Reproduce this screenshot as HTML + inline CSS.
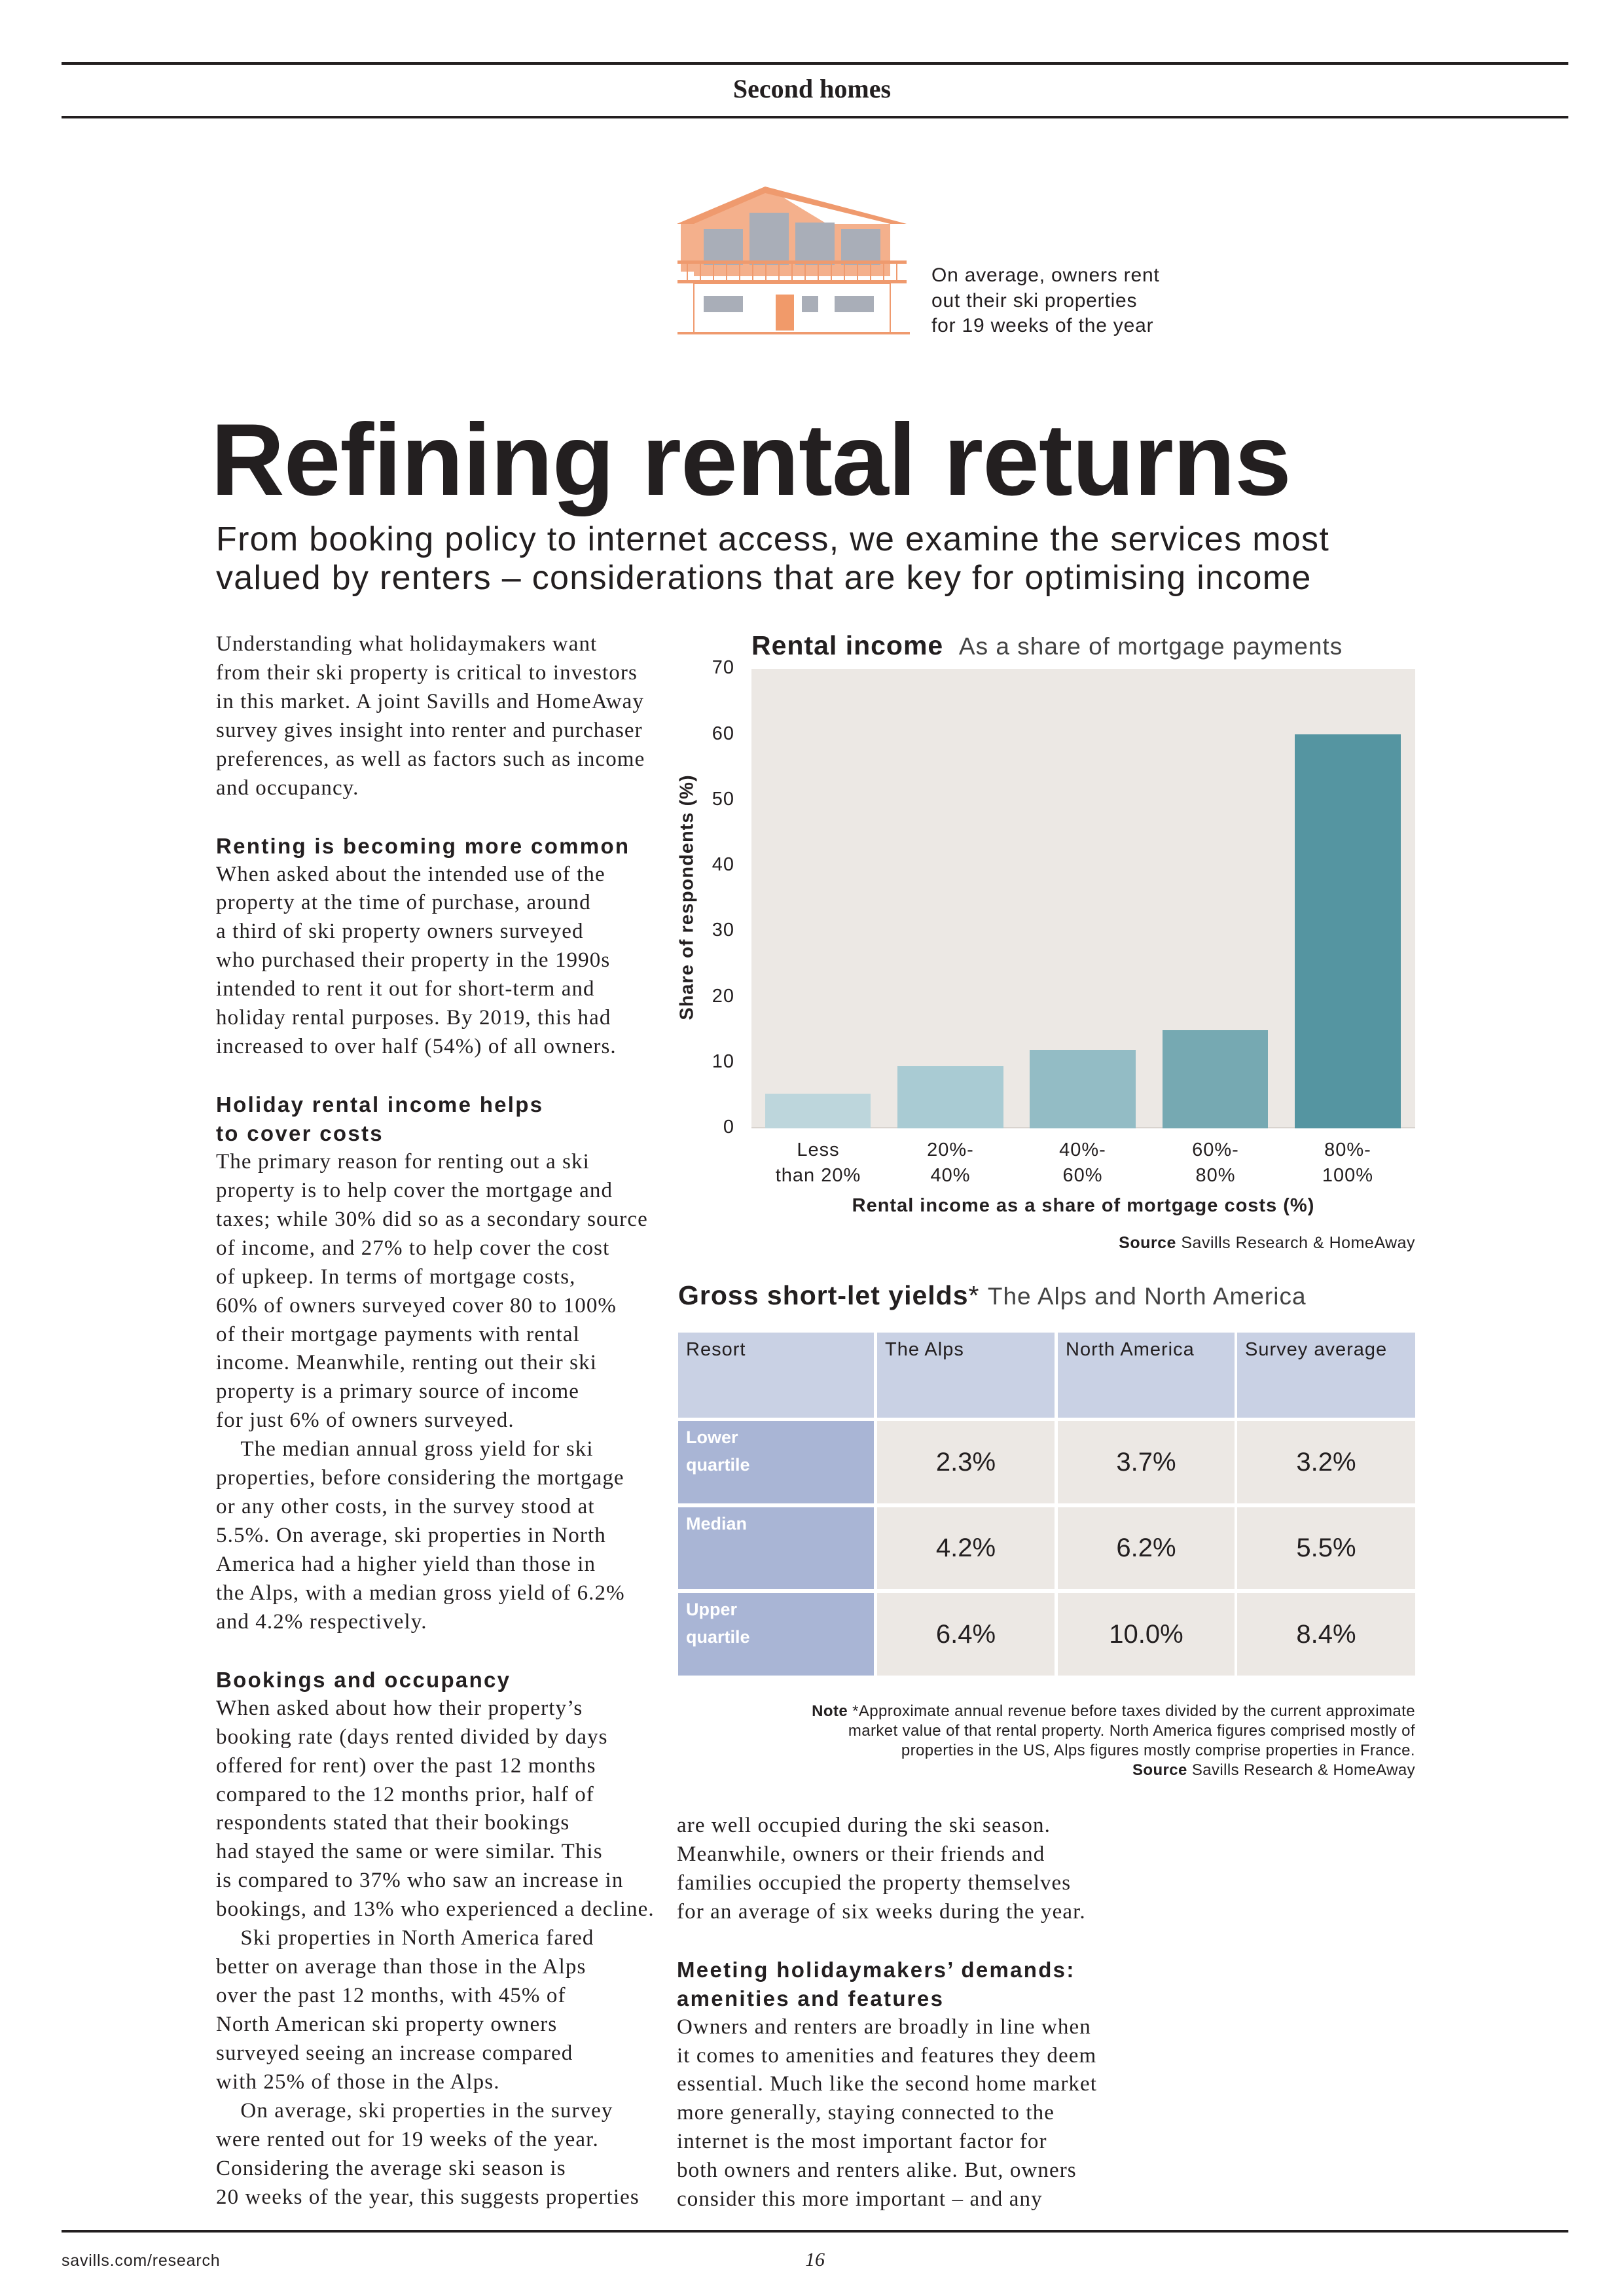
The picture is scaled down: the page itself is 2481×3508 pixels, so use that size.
<!DOCTYPE html>
<html><head><meta charset="utf-8"><style>
body{margin:0;width:2481px;height:3508px;background:#fff;position:relative;overflow:hidden;color:#231f20}
.a{position:absolute;white-space:nowrap}
.serif{font-family:"Liberation Serif",serif}
.sans{font-family:"Liberation Sans",sans-serif}
.col{position:absolute;font-family:"Liberation Serif",serif;font-size:33px;letter-spacing:1.1px;line-height:43.95px;color:#231f20}
.col div{height:43.95px;white-space:nowrap}
.h{font-family:"Liberation Sans",sans-serif;font-weight:bold;font-size:33px;letter-spacing:2.3px}
.rule{position:absolute;left:94px;width:2302px;background:#231f20;height:4px}
.yl{position:absolute;font-family:"Liberation Sans",sans-serif;font-size:29px;letter-spacing:1px;color:#231f20;text-align:right;width:50px;left:1072px}
.xl{position:absolute;font-family:"Liberation Sans",sans-serif;font-size:29px;letter-spacing:1px;text-align:center;width:200px;line-height:39px}
.cell{position:absolute;font-family:"Liberation Sans",sans-serif}
</style></head><body>
<div class="rule" style="top:95px"></div>
<div class="rule" style="top:177px"></div>
<div class="a serif" style="left:0;width:2481px;text-align:center;top:112px;font-size:40px;font-weight:bold">Second homes</div>

<svg class="a" style="left:1030px;top:280px" width="365" height="235" viewBox="0 0 365 235">
<polygon points="139,5 10,60 10,135 130,135 130,95 230,95 230,60" fill="#f4b08c"/>
<polygon points="139,5 355,62 330,62 139,15 30,62 4,62" fill="#ef9a6e"/>
<rect x="30" y="62" width="300" height="80" fill="#f4b08c"/>
<rect x="45" y="70" width="60" height="55" fill="#a9aeb8"/>
<rect x="115" y="45" width="60" height="80" fill="#a9aeb8"/>
<rect x="185" y="60" width="60" height="65" fill="#a9aeb8"/>
<rect x="255" y="70" width="60" height="55" fill="#a9aeb8"/>
<rect x="5" y="118" width="350" height="5" fill="#ef9a6e"/>
<rect x="5" y="148" width="350" height="5" fill="#ef9a6e"/>
<g stroke="#ef9a6e" stroke-width="2">
<line x1="20" y1="123" x2="20" y2="148"/><line x1="40" y1="123" x2="40" y2="148"/><line x1="60" y1="123" x2="60" y2="148"/><line x1="80" y1="123" x2="80" y2="148"/><line x1="100" y1="123" x2="100" y2="148"/><line x1="120" y1="123" x2="120" y2="148"/><line x1="140" y1="123" x2="140" y2="148"/><line x1="160" y1="123" x2="160" y2="148"/><line x1="180" y1="123" x2="180" y2="148"/><line x1="200" y1="123" x2="200" y2="148"/><line x1="220" y1="123" x2="220" y2="148"/><line x1="240" y1="123" x2="240" y2="148"/><line x1="260" y1="123" x2="260" y2="148"/><line x1="280" y1="123" x2="280" y2="148"/><line x1="300" y1="123" x2="300" y2="148"/><line x1="320" y1="123" x2="320" y2="148"/><line x1="340" y1="123" x2="340" y2="148"/></g>
<rect x="30" y="153" width="300" height="75" fill="#fff" stroke="#ef9a6e" stroke-width="2"/>
<rect x="45" y="172" width="60" height="25" fill="#a9aeb8"/>
<rect x="155" y="170" width="28" height="55" fill="#f19a6a"/>
<rect x="195" y="172" width="25" height="25" fill="#a9aeb8"/>
<rect x="245" y="172" width="60" height="25" fill="#a9aeb8"/>
<rect x="5" y="227" width="355" height="4" fill="#ef9a6e"/>
</svg>
<div class="a sans" style="left:1423px;top:402px;font-size:30px;letter-spacing:0.8px;line-height:38.5px">On average, owners rent<br>out their ski properties<br>for 19 weeks of the year</div>

<div class="a sans" style="left:322px;top:614px;font-size:156px;font-weight:bold;letter-spacing:-1px">Refining rental returns</div>
<div class="a sans" style="left:330px;top:795px;font-size:52px;letter-spacing:1.3px;line-height:59px">From booking policy to internet access, we examine the services most<br>valued by renters – considerations that are key for optimising income</div>

<div class="col" style="left:330px;top:963px">
<div>Understanding what holidaymakers want</div>
<div>from their ski property is critical to investors</div>
<div>in this market. A joint Savills and HomeAway</div>
<div>survey gives insight into renter and purchaser</div>
<div>preferences, as well as factors such as income</div>
<div>and occupancy.</div>
<div></div>
<div class="h">Renting is becoming more common</div>
<div>When asked about the intended use of the</div>
<div>property at the time of purchase, around</div>
<div>a third of ski property owners surveyed</div>
<div>who purchased their property in the 1990s</div>
<div>intended to rent it out for short-term and</div>
<div>holiday rental purposes. By 2019, this had</div>
<div>increased to over half (54%) of all owners.</div>
<div></div>
<div class="h">Holiday rental income helps</div>
<div class="h">to cover costs</div>
<div>The primary reason for renting out a ski</div>
<div>property is to help cover the mortgage and</div>
<div>taxes; while 30% did so as a secondary source</div>
<div>of income, and 27% to help cover the cost</div>
<div>of upkeep. In terms of mortgage costs,</div>
<div>60% of owners surveyed cover 80 to 100%</div>
<div>of their mortgage payments with rental</div>
<div>income. Meanwhile, renting out their ski</div>
<div>property is a primary source of income</div>
<div>for just 6% of owners surveyed.</div>
<div>&nbsp;&nbsp;&nbsp;&nbsp;The median annual gross yield for ski</div>
<div>properties, before considering the mortgage</div>
<div>or any other costs, in the survey stood at</div>
<div>5.5%. On average, ski properties in North</div>
<div>America had a higher yield than those in</div>
<div>the Alps, with a median gross yield of 6.2%</div>
<div>and 4.2% respectively.</div>
<div></div>
<div class="h">Bookings and occupancy</div>
<div>When asked about how their property’s</div>
<div>booking rate (days rented divided by days</div>
<div>offered for rent) over the past 12 months</div>
<div>compared to the 12 months prior, half of</div>
<div>respondents stated that their bookings</div>
<div>had stayed the same or were similar. This</div>
<div>is compared to 37% who saw an increase in</div>
<div>bookings, and 13% who experienced a decline.</div>
<div>&nbsp;&nbsp;&nbsp;&nbsp;Ski properties in North America fared</div>
<div>better on average than those in the Alps</div>
<div>over the past 12 months, with 45% of</div>
<div>North American ski property owners</div>
<div>surveyed seeing an increase compared</div>
<div>with 25% of those in the Alps.</div>
<div>&nbsp;&nbsp;&nbsp;&nbsp;On average, ski properties in the survey</div>
<div>were rented out for 19 weeks of the year.</div>
<div>Considering the average ski season is</div>
<div>20 weeks of the year, this suggests properties</div>
</div>

<div class="col" style="left:1034px;top:2768px">
<div>are well occupied during the ski season.</div>
<div>Meanwhile, owners or their friends and</div>
<div>families occupied the property themselves</div>
<div>for an average of six weeks during the year.</div>
<div></div>
<div class="h">Meeting holidaymakers’ demands:</div>
<div class="h">amenities and features</div>
<div>Owners and renters are broadly in line when</div>
<div>it comes to amenities and features they deem</div>
<div>essential. Much like the second home market</div>
<div>more generally, staying connected to the</div>
<div>internet is the most important factor for</div>
<div>both owners and renters alike. But, owners</div>
<div>consider this more important – and any</div>
</div>

<!-- Chart -->
<div class="a sans" style="left:1148px;top:963px;font-size:41px;letter-spacing:1px"><b>Rental income</b> <span style="font-size:37px;color:#444">&nbsp;As a share of mortgage payments</span></div>
<div class="a" style="left:1148px;top:1022px;width:1014px;height:702px;background:#ece8e4"></div>
<div class="a" style="left:1148px;top:1722px;width:1014px;height:2px;background:#d8d3ce"></div>
<div class="yl" style="top:1004px">70</div>
<div class="yl" style="top:1105px">60</div>
<div class="yl" style="top:1205px">50</div>
<div class="yl" style="top:1305px">40</div>
<div class="yl" style="top:1405px">30</div>
<div class="yl" style="top:1506px">20</div>
<div class="yl" style="top:1606px">10</div>
<div class="yl" style="top:1706px">0</div>
<div class="a sans" style="left:1050px;top:1371px;font-size:29px;font-weight:bold;letter-spacing:1px;transform:translate(-50%,-50%) rotate(-90deg)">Share of respondents (%)</div>
<div class="a" style="left:1169px;top:1671px;width:161px;height:53px;background:#bdd6dc"></div>
<div class="a" style="left:1371px;top:1629px;width:162px;height:95px;background:#a9cbd3"></div>
<div class="a" style="left:1573px;top:1604px;width:162px;height:120px;background:#93bcc5"></div>
<div class="a" style="left:1776px;top:1574px;width:161px;height:150px;background:#76a9b2"></div>
<div class="a" style="left:1978px;top:1122px;width:162px;height:602px;background:#5595a1"></div>
<div class="xl" style="left:1150px;top:1738px">Less<br>than 20%</div>
<div class="xl" style="left:1352px;top:1738px">20%-<br>40%</div>
<div class="xl" style="left:1554px;top:1738px">40%-<br>60%</div>
<div class="xl" style="left:1757px;top:1738px">60%-<br>80%</div>
<div class="xl" style="left:1959px;top:1738px">80%-<br>100%</div>
<div class="a sans" style="left:1148px;width:1014px;text-align:center;top:1826px;font-size:29px;letter-spacing:1px;font-weight:bold">Rental income as a share of mortgage costs (%)</div>
<div class="a sans" style="left:1148px;width:1014px;text-align:right;top:1885px;font-size:25px;letter-spacing:0.5px"><b>Source</b> Savills Research &amp; HomeAway</div>

<!-- Table -->
<div class="a sans" style="left:1036px;top:1956px;font-size:41px;letter-spacing:1px"><b>Gross short-let yields</b>* <span style="font-size:37px;color:#444">The Alps and North America</span></div>
<div class="cell" style="left:1036px;top:2036px;width:299px;height:130px;background:#c9d1e4"><div style="padding:10px 12px;font-size:29px;letter-spacing:1px">Resort</div></div>
<div class="cell" style="left:1340px;top:2036px;width:271px;height:130px;background:#c9d1e4"><div style="padding:10px 12px;font-size:29px;letter-spacing:1px">The Alps</div></div>
<div class="cell" style="left:1616px;top:2036px;width:270px;height:130px;background:#c9d1e4"><div style="padding:10px 12px;font-size:29px;letter-spacing:1px">North America</div></div>
<div class="cell" style="left:1890px;top:2036px;width:272px;height:130px;background:#c9d1e4"><div style="padding:10px 12px;font-size:29px;letter-spacing:1px">Survey average</div></div>

<div class="cell" style="left:1036px;top:2171px;width:299px;height:126px;background:#a9b5d5;color:#fff;font-weight:bold;font-size:27px;line-height:42px"><div style="padding:4px 12px">Lower<br>quartile</div></div>
<div class="cell" style="left:1340px;top:2171px;width:271px;height:126px;background:#ece8e4;font-size:40px;line-height:126px;text-align:center">2.3%</div>
<div class="cell" style="left:1616px;top:2171px;width:270px;height:126px;background:#ece8e4;font-size:40px;line-height:126px;text-align:center">3.7%</div>
<div class="cell" style="left:1890px;top:2171px;width:272px;height:126px;background:#ece8e4;font-size:40px;line-height:126px;text-align:center">3.2%</div>

<div class="cell" style="left:1036px;top:2303px;width:299px;height:125px;background:#a9b5d5;color:#fff;font-weight:bold;font-size:27px;line-height:42px"><div style="padding:4px 12px">Median</div></div>
<div class="cell" style="left:1340px;top:2303px;width:271px;height:125px;background:#ece8e4;font-size:40px;line-height:125px;text-align:center">4.2%</div>
<div class="cell" style="left:1616px;top:2303px;width:270px;height:125px;background:#ece8e4;font-size:40px;line-height:125px;text-align:center">6.2%</div>
<div class="cell" style="left:1890px;top:2303px;width:272px;height:125px;background:#ece8e4;font-size:40px;line-height:125px;text-align:center">5.5%</div>

<div class="cell" style="left:1036px;top:2434px;width:299px;height:126px;background:#a9b5d5;color:#fff;font-weight:bold;font-size:27px;line-height:42px"><div style="padding:4px 12px">Upper<br>quartile</div></div>
<div class="cell" style="left:1340px;top:2434px;width:271px;height:126px;background:#ece8e4;font-size:40px;line-height:126px;text-align:center">6.4%</div>
<div class="cell" style="left:1616px;top:2434px;width:270px;height:126px;background:#ece8e4;font-size:40px;line-height:126px;text-align:center">10.0%</div>
<div class="cell" style="left:1890px;top:2434px;width:272px;height:126px;background:#ece8e4;font-size:40px;line-height:126px;text-align:center">8.4%</div>

<div class="a sans" style="left:1036px;width:1126px;text-align:right;top:2600px;font-size:24px;letter-spacing:0.4px;line-height:30px"><b>Note</b> *Approximate annual revenue before taxes divided by the current approximate<br>market value of that rental property. North America figures comprised mostly of<br>properties in the US, Alps figures mostly comprise properties in France.<br><b>Source</b> Savills Research &amp; HomeAway</div>

<div class="rule" style="top:3407px"></div>
<div class="a sans" style="left:94px;top:3440px;font-size:25px;letter-spacing:0.8px">savills.com/research</div>
<div class="a serif" style="left:1230px;top:3436px;font-size:30px;font-style:italic">16</div>
</body></html>
